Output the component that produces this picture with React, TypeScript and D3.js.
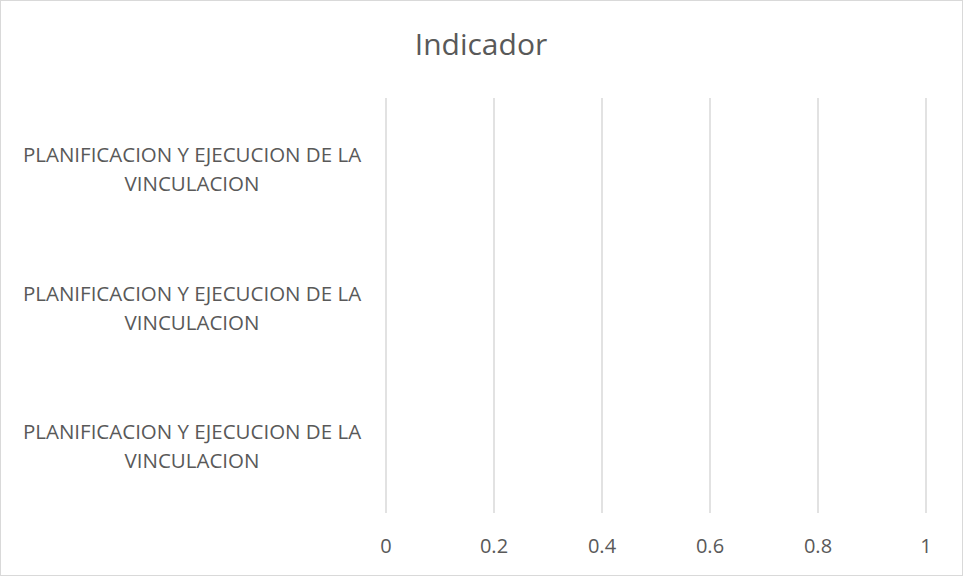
import { useMemo } from "react";
import * as d3 from "d3";

const WIDTH = 963;
const HEIGHT = 576;

const title = "Indicador";
const categories = [
  "PLANIFICACION Y EJECUCION DE LA VINCULACION",
  "PLANIFICACION Y EJECUCION DE LA VINCULACION",
  "PLANIFICACION Y EJECUCION DE LA VINCULACION",
];
const categoryLines = [
  ["PLANIFICACION Y EJECUCION DE LA", "VINCULACION"],
  ["PLANIFICACION Y EJECUCION DE LA", "VINCULACION"],
  ["PLANIFICACION Y EJECUCION DE LA", "VINCULACION"],
];
const values = [0, 0, 0];
const xTicks = [0, 0.2, 0.4, 0.6, 0.8, 1];

const PLOT = { left: 386, right: 926, top: 98, bottom: 513 };
const FONT = "'Open Sans', 'Noto Sans', sans-serif";
const TEXT = "#595959";
const GRID = "#d9d9d9";

export default function App() {
  const x = useMemo(
    () => d3.scaleLinear().domain([0, 1]).range([PLOT.left, PLOT.right]),
    []
  );
  // excel draws the first category at the bottom
  const band = useMemo(
    () =>
      d3
        .scaleBand<number>()
        .domain(d3.range(categories.length).reverse())
        .range([PLOT.top, PLOT.bottom]),
    []
  );
  const barH = band.bandwidth() * 0.55;

  return (
    <svg
      width={WIDTH}
      height={HEIGHT}
      style={{ position: "absolute", left: 0, top: 0, background: "#fff" }}
    >
      <rect x={0.5} y={0.5} width={WIDTH - 1} height={HEIGHT - 1} fill="#fff" stroke={GRID} />

      <text
        x={481}
        y={55}
        textAnchor="middle"
        fontFamily={FONT}
        fontSize={30}
        fill={TEXT}
      >
        {title}
      </text>

      {xTicks.map((t) => (
        <line
          key={t}
          x1={x(t)}
          x2={x(t)}
          y1={PLOT.top}
          y2={PLOT.bottom}
          stroke={GRID}
          strokeWidth={1.5}
        />
      ))}

      {values.map((v, i) => (
        <rect
          key={i}
          x={x(0)}
          y={band(i)! + (band.bandwidth() - barH) / 2}
          width={x(v) - x(0)}
          height={barH}
          fill="#4472c4"
        />
      ))}

      {xTicks.map((t) => (
        <text
          key={t}
          x={x(t)}
          y={553}
          textAnchor="middle"
          fontFamily={FONT}
          fontSize={20}
          fill={TEXT}
        >
          {d3.format("~g")(t)}
        </text>
      ))}

      {categoryLines.map((lines, i) => {
        const cy = band(i)! + band.bandwidth() / 2;
        return (
          <g key={i} fontFamily={FONT} fontSize={20.5} fill={TEXT} textAnchor="middle">
            <text x={192} y={cy - 5}>
              {lines[0]}
            </text>
            <text x={192} y={cy + 24}>
              {lines[1]}
            </text>
          </g>
        );
      })}
    </svg>
  );
}
